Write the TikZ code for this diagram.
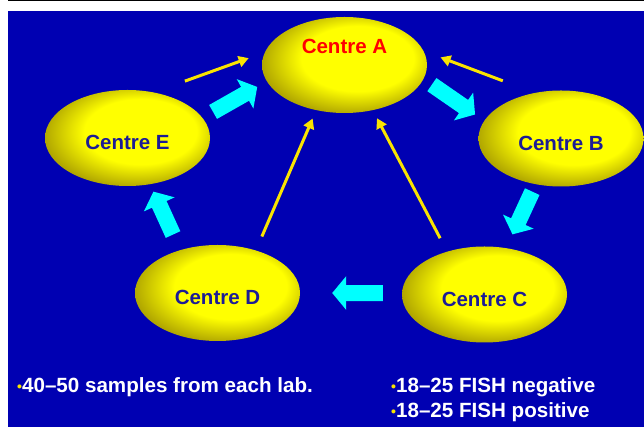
\documentclass[tikz,border=0pt]{standalone}
\usepackage{fontspec}
\setmainfont{Liberation Sans}
\usepackage{xcolor}
\definecolor{slide_blue}{RGB}{0,0,178}
\definecolor{dark_blue}{RGB}{28,28,150}
\definecolor{egg_yellow}{RGB}{255,255,0}
\definecolor{egg_edge}{RGB}{176,166,0}
\definecolor{flow_cyan}{RGB}{0,255,255}
\definecolor{line_yellow}{RGB}{250,228,0}
\usetikzlibrary{shapes.geometric,arrows.meta}
\pgfdeclareradialshading{eggshade}{\pgfpoint{6bp}{5bp}}{color(0bp)=(egg_yellow); color(17bp)=(egg_yellow); color(28bp)=(egg_edge); color(50bp)=(egg_edge)}
\tikzset{
  centre/.style={ellipse, shade, shading=eggshade, minimum width=165pt, minimum height=96pt,
    inner sep=0pt, text=dark_blue, font=\bfseries\fontsize{20.5}{24}\selectfont, text height=24pt},
  bigflow/.style={draw=flow_cyan, line width=16pt, -{Triangle[width=33pt,length=14pt]}},
  smallflow/.style={draw=line_yellow, line width=3pt, -{Triangle[width=11pt,length=10pt]}},
  note/.style={anchor=base west, text=white, inner sep=0pt, font=\bfseries\fontsize{20.6}{24}\selectfont}
}
\newcommand{\dotmark}{{\color{line_yellow}\fontsize{14}{14}\selectfont\raisebox{1.5pt}{•}}}

\begin{document}
\begin{tikzpicture}[x=1pt, y=1pt]
\useasboundingbox (0, 0) rectangle (644, 427);
\fill[white] (0, 0) rectangle (644, 427);
\fill[slide_blue] (8, 0) rectangle (644, 416);
\draw[black, line width=1.2pt] (8, 427) -- (644, 427);

% the five centres
\node[centre, text=red, text height=14pt, text depth=36pt] (A) at (344.5, 362) {Centre A};
\node[centre] (B) at (561, 288.5) {Centre B};
\node[centre] (C) at (484.5, 132.5) {Centre C};
\node[centre] (D) at (217.5, 134) {Centre D};
\node[centre] (E) at (127.5, 289) {Centre E};

% samples go round the ring
\draw[bigflow, shorten <=12pt, shorten >=11pt] (E.15) -- (A.192);
\draw[bigflow, shorten <=10pt, shorten >=11pt] (A.350) -- (B.167);
\draw[bigflow, shorten <=8pt, shorten >=15pt] (B.241) -- (C.65);
\draw[bigflow, shorten <=19pt, shorten >=32pt] (C.179) -- (D.0);
\draw[bigflow, shorten <=17pt, shorten >=8pt] (D.131) -- (E.296);

% results back to centre A
\draw[smallflow, shorten <=33pt, shorten >=17pt] (E.60) -- (A.171);
\draw[smallflow, shorten <=34pt, shorten >=18pt] (B.120) -- (A.10);
\draw[smallflow, shorten <=15pt, shorten >=9pt] (D.48) -- (A.238);
\draw[smallflow, shorten <=15pt, shorten >=9pt] (C.131) -- (A.302);

\node[note] (samples) at (17, 34) {\dotmark40–50 samples from each lab.};
\node[note] (negative) at (391, 34) {\dotmark18–25 FISH negative};
\node[note] (positive) at (391, 9) {\dotmark18–25 FISH positive};
\end{tikzpicture}
\end{document}
